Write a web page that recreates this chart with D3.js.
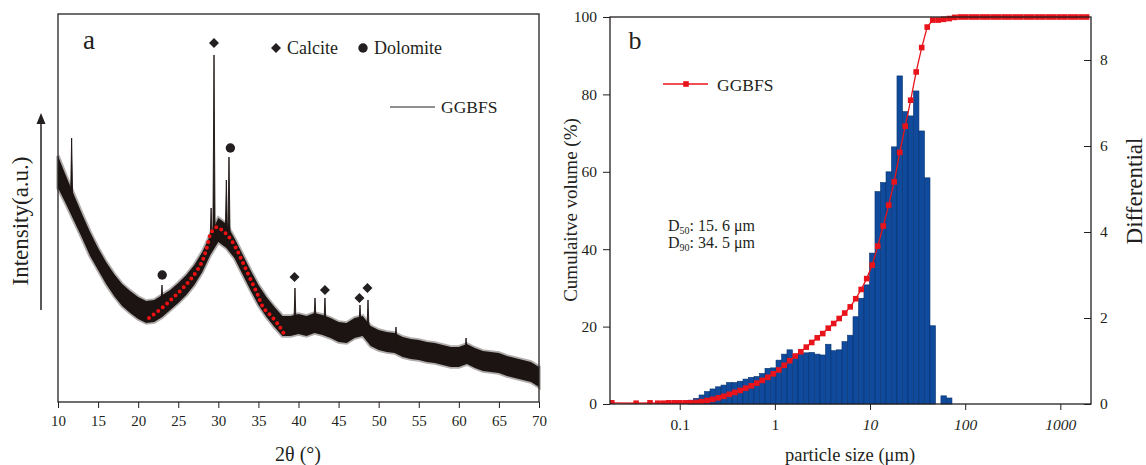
<!DOCTYPE html>
<html>
<head>
<meta charset="utf-8">
<script src="https://cdn.jsdelivr.net/npm/d3@7"></script>
<style>
  body { margin: 0; background: #fff; }
  text { font-family: "Liberation Serif", "Times New Roman", serif; fill: #231f20; }
</style>
</head>
<body>
<svg id="chart" width="1146" height="465"></svg>
<script>
// ---- panel a : XRD pattern (intensity in a.u.) ----
var xrdTheta = [10, 11, 12, 13, 14, 15, 16, 17, 18, 19, 20, 21, 22, 23, 24, 25, 26, 27, 28, 29, 30,
  31, 32, 33, 34, 35, 36, 37, 38, 39, 40, 41, 42, 43, 44, 45, 46, 47, 48, 49, 50,
  51, 52, 53, 54, 55, 56, 57, 58, 59, 60, 61, 62, 63, 64, 65, 66, 67, 68, 69, 70]
// upper and lower edge of the noisy trace
var xrdHigh = [246, 226, 207, 188, 170, 154, 140, 128, 118, 111, 105, 101, 102, 107, 112, 119, 127, 137, 150, 167, 184,
  178, 164, 148, 132, 117, 105, 95, 86, 86, 88, 86, 89, 87, 84, 80, 79, 84, 86, 76, 72,
  70, 69, 65, 63, 62, 60, 59, 57, 55, 55, 58, 54, 51, 50, 49, 46, 44, 42, 40, 35]
var xrdLow = [214, 198, 181, 164, 146, 132, 118, 106, 96, 89, 83, 79, 80, 85, 92, 99, 107, 117, 130, 147, 160,
  154, 144, 128, 112, 97, 85, 75, 66, 66, 68, 66, 69, 67, 64, 60, 59, 64, 66, 56, 52,
  50, 49, 45, 43, 42, 40, 39, 37, 35, 35, 38, 34, 31, 30, 29, 26, 24, 22, 20, 15]
// sharp reflections
var peakTheta = [11.7, 22.97, 29.1, 29.46, 31.0, 31.33, 39.56, 42.06, 43.3, 47.67, 48.67, 52.16, 60.9]
var peakTop = [264, 117, 194, 347, 222, 245, 114, 104, 104, 97, 102, 75, 64]
// phase markers
var calciteTheta = [29.46, 39.5, 43.3, 47.6, 48.6]
var calciteY = [359, 125, 112, 104, 114]
var dolomiteTheta = [31.5, 23.0]
var dolomiteY = [254, 127]
// amorphous hump (red dotted)
var humpTheta = [21.35, 22.97, 24.34, 25.72, 26.96, 27.96, 28.59, 29.08, 29.83, 30.58, 31.33, 32.33,
  33.08, 33.95, 34.82, 35.57, 36.82, 37.69, 38.32]
var humpY = [84, 94, 104, 115, 127, 140, 155, 169, 175, 171, 165, 152, 139, 124, 109, 95, 84, 75, 66]
var xrdTicks = [10, 15, 20, 25, 30, 35, 40, 45, 50, 55, 60, 65, 70]

// ---- panel b : particle size distribution ----
var binEdges = [0.1222, 0.1396, 0.1596, 0.1820, 0.2080, 0.2377, 0.2716, 0.3105, 0.3540, 0.4046,
  0.4624, 0.5284, 0.6039, 0.6887, 0.7870, 0.8995, 1.028, 1.175, 1.340, 1.531,
  1.750, 2.000, 2.286, 2.606, 2.979, 3.404, 3.890, 4.436, 5.070, 5.794,
  6.622, 7.568, 8.630, 9.863, 11.27, 12.88, 14.72, 16.79, 19.19, 21.93,
  25.06, 28.58, 32.66, 37.33, 42.66, 48.75, 55.59, 63.53, 72.61]
var diffValues = [0.09, 0.13, 0.21, 0.29, 0.35, 0.40, 0.44, 0.50, 0.50, 0.53,
  0.58, 0.62, 0.64, 0.71, 0.83, 0.84, 1.02, 1.16, 1.26, 1.12,
  1.16, 1.19, 1.20, 1.16, 1.14, 1.39, 1.24, 1.26, 1.45, 1.60,
  2.03, 2.46, 2.77, 3.51, 4.94, 5.15, 5.40, 5.98, 7.63, 6.80,
  6.70, 7.28, 6.35, 5.26, 1.82, 0, 0.19, 0.14]
var cumSizes = [0.0193, 0.0348, 0.0487, 0.0588, 0.0671, 0.0767, 0.0876, 0.1001, 0.1143,
  0.1306, 0.1493, 0.1706, 0.1945, 0.2223, 0.2541, 0.2904, 0.3319, 0.3784, 0.4325,
  0.4943, 0.5649, 0.6457, 0.7362, 0.8414, 0.9616, 1.099, 1.253, 1.432, 1.637,
  1.871, 2.138, 2.438, 2.786, 3.184, 3.639, 4.150, 4.742, 5.420, 6.194,
  7.079, 8.072, 9.226, 10.54, 12.05, 13.77, 15.70, 17.95, 20.51, 23.44,
  26.73, 30.55, 34.91, 39.90, 45.60, 52.00, 59.43, 67.92,
  77.62, 88.72, 101.2, 115.6, 132.1, 151.0, 172.2, 196.8, 224.9, 257.0, 293.1, 335.0,
  382.8, 437.5, 498.9, 570.2, 651.6, 744.7, 849.2, 970.5, 1109, 1268, 1445, 1652, 1888]
var cumValues = [0.3, 0.2, 0.3, 0.2, 0.2, 0.3, 0.3, 0.3, 0.3,
  0.3, 0.4, 0.6, 0.9, 1.2, 1.6, 2.0, 2.5, 3.0, 3.5,
  4.1, 4.7, 5.4, 6.1, 6.9, 7.8, 8.8, 10.0, 11.2, 12.4,
  13.5, 14.7, 15.9, 17.1, 18.2, 19.6, 20.8, 22.1, 23.5, 25.1,
  27.2, 29.6, 32.4, 35.9, 40.8, 46.0, 51.4, 57.4, 65.0, 71.8,
  78.5, 85.8, 92.1, 97.4, 99.2, 99.2, 99.4, 99.6,
  99.9, 100, 100, 100, 100, 100, 100, 100, 100, 100, 100, 100,
  100, 100, 100, 100, 100, 100, 100, 100, 100, 100, 100, 100, 100]
var sizeTicks = [0.1, 1, 10, 100, 1000]
var cumTicks = [0, 20, 40, 60, 80, 100]
var diffTicks = [0, 2, 4, 6, 8]

var ink = '#231f20'
var red = '#e8141c'
var blue = '#0f4a9c'
var svg = d3.select('#chart')

// square rotated by 45 degrees, as in the reference
function rhomb (r) {
  return 'M0,' + (-r) + 'L' + r + ',0L0,' + r + 'L' + (-r) + ',0Z'
}

// ================= panel a =================
var a = { left: 58, right: 539, top: 14, bottom: 402 }
var xA = d3.scaleLinear().domain([10, 70]).range([a.left, a.right])
var yA = d3.scaleLinear().domain([0, 388]).range([a.bottom, a.top])
var gA = svg.append('g')

// noisy trace drawn as a band, with a soft dark edge
var band = xrdTheta.map(function (t, i) { return { t: t, hi: xrdHigh[i], lo: xrdLow[i] } })
var bandArea = d3.area().x(function (d) { return xA(d.t) })
  .y0(function (d) { return yA(d.lo) }).y1(function (d) { return yA(d.hi) })
gA.append('path')
  .datum(band)
  .attr('d', bandArea)
  .attr('fill', 'none')
  .attr('stroke', '#1c1412')
  .attr('stroke-opacity', 0.35)
  .attr('stroke-width', 3.5)
gA.append('path')
  .datum(band)
  .attr('d', bandArea)
  .attr('fill', '#1c1412')

// centre of band at a given angle (for the foot of each peak)
function bandMid (t) {
  var i = Math.min(xrdTheta.length - 2, Math.max(0, Math.floor(t - xrdTheta[0])))
  var f = (t - xrdTheta[i]) / (xrdTheta[i + 1] - xrdTheta[i])
  var m0 = (xrdHigh[i] + xrdLow[i]) / 2
  var m1 = (xrdHigh[i + 1] + xrdLow[i + 1]) / 2
  return m0 + (m1 - m0) * f
}
peakTheta.forEach(function (t, i) {
  var base = bandMid(t)
  gA.append('path')
    .datum([[t - 0.14, base], [t, peakTop[i]], [t + 0.14, base]])
    .attr('d', d3.line().x(function (d) { return xA(d[0]) }).y(function (d) { return yA(d[1]) }))
    .attr('fill', '#1c1412')
    .attr('stroke', '#1c1412')
    .attr('stroke-width', 0.9)
})

// amorphous hump, red dots
gA.append('path')
  .datum(humpTheta.map(function (t, i) { return [t, humpY[i]] }))
  .attr('d', d3.line().curve(d3.curveCatmullRom)
    .x(function (d) { return xA(d[0]) }).y(function (d) { return yA(d[1]) }))
  .attr('fill', 'none')
  .attr('stroke', '#ee1111')
  .attr('stroke-width', 4)
  .attr('stroke-linecap', 'round')
  .attr('stroke-dasharray', '0 5.8')

// phase symbols
gA.selectAll('.calc').data(calciteTheta).enter().append('path')
  .attr('class', 'calc')
  .attr('d', rhomb(5))
  .attr('transform', function (d, i) { return 'translate(' + xA(d) + ',' + yA(calciteY[i]) + ')' })
  .attr('fill', ink)
gA.selectAll('.dolo').data(dolomiteTheta).enter().append('circle')
  .attr('class', 'dolo')
  .attr('cx', function (d) { return xA(d) })
  .attr('cy', function (d, i) { return yA(dolomiteY[i]) })
  .attr('r', 4.7)
  .attr('fill', ink)

// frame and x axis
gA.append('rect')
  .attr('x', a.left).attr('y', a.top)
  .attr('width', a.right - a.left).attr('height', a.bottom - a.top)
  .attr('fill', 'none').attr('stroke', ink).attr('stroke-width', 1.3)
var axA = gA.append('g').attr('transform', 'translate(0,' + a.bottom + ')')
axA.call(d3.axisBottom(xA).tickValues(d3.range(10, 71, 1)).tickSize(3).tickFormat(''))
axA.call(d3.axisBottom(xA).tickValues(xrdTicks).tickSize(6).tickPadding(7).tickFormat(d3.format('d')))
axA.select('.domain').remove()
axA.selectAll('line').attr('stroke', ink)
axA.selectAll('text').style('font-size', '15px').attr('fill', ink)

// labels
gA.append('text').attr('x', 89).attr('y', 49).attr('text-anchor', 'middle')
  .style('font-size', '27px').text('a')
gA.append('text').attr('x', 298).attr('y', 461).attr('text-anchor', 'middle')
  .style('font-size', '20px').text('2θ (°)')
gA.append('text').attr('transform', 'translate(28,221) rotate(-90)').attr('text-anchor', 'middle')
  .style('font-size', '23px').text('Intensity(a.u.)')
gA.append('line').attr('x1', 41).attr('x2', 41).attr('y1', 310).attr('y2', 122)
  .attr('stroke', ink).attr('stroke-width', 1.5)
gA.append('path').attr('d', 'M41,113 L36.5,124 L45.5,124 Z').attr('fill', ink)

// legend a
gA.append('path').attr('d', rhomb(5)).attr('transform', 'translate(276,48)').attr('fill', ink)
gA.append('text').attr('x', 287).attr('y', 54).style('font-size', '18px').text('Calcite')
gA.append('circle').attr('cx', 363).attr('cy', 48).attr('r', 4.7).attr('fill', ink)
gA.append('text').attr('x', 374).attr('y', 54).style('font-size', '18px').text('Dolomite')
gA.append('line').attr('x1', 390).attr('x2', 435).attr('y1', 107).attr('y2', 107)
  .attr('stroke', ink).attr('stroke-width', 1)
gA.append('text').attr('x', 441).attr('y', 113).style('font-size', '17.5px').text('GGBFS')

// ================= panel b =================
var b = { left: 610, right: 1091, top: 17, bottom: 404 }
var xB = d3.scaleLog().domain([0.0185, 2100]).range([b.left, b.right])
var yL = d3.scaleLinear().domain([0, 100]).range([b.bottom, b.top])
var yR = d3.scaleLinear().domain([0, 9]).range([b.bottom, b.top])
var gB = svg.append('g')

svg.append('clipPath').attr('id', 'clipB').append('rect')
  .attr('x', b.left).attr('y', b.top - 4).attr('width', b.right - b.left).attr('height', b.bottom - b.top + 4)

// differential histogram
gB.selectAll('.bar').data(diffValues).enter().append('rect')
  .attr('class', 'bar')
  .attr('x', function (d, i) { return xB(binEdges[i]) })
  .attr('width', function (d, i) { return xB(binEdges[i + 1]) - xB(binEdges[i]) })
  .attr('y', function (d) { return yR(d) })
  .attr('height', function (d) { return yR(0) - yR(d) })
  .attr('fill', blue)
  .attr('stroke', '#0a346f')
  .attr('stroke-width', function (d) { return d > 0 ? 0.6 : 0 })

// cumulative curve
var cum = cumSizes.map(function (s, i) { return [s, cumValues[i]] })
var gCum = gB.append('g').attr('clip-path', 'url(#clipB)')
gCum.append('path')
  .datum(cum)
  .attr('d', d3.line().x(function (d) { return xB(d[0]) }).y(function (d) { return yL(d[1]) }))
  .attr('fill', 'none').attr('stroke', red).attr('stroke-width', 1.3)
gCum.selectAll('.sq').data(cum).enter().append('rect')
  .attr('class', 'sq')
  .attr('x', function (d) { return xB(d[0]) - 2.8 })
  .attr('y', function (d) { return yL(d[1]) - 2.8 })
  .attr('width', 5.6).attr('height', 5.6)
  .attr('fill', red)

// frame
gB.append('rect')
  .attr('x', b.left).attr('y', b.top)
  .attr('width', b.right - b.left).attr('height', b.bottom - b.top)
  .attr('fill', 'none').attr('stroke', ink).attr('stroke-width', 1.3)

// bottom log axis
var minorSizes = []
;[0.01, 0.1, 1, 10, 100, 1000].forEach(function (dec) {
  for (var k = 2; k <= 9; k++) {
    var v = dec * k
    if (v >= 0.02 && v <= 2000) minorSizes.push(v)
  }
})
var axB = gB.append('g').attr('transform', 'translate(0,' + b.bottom + ')')
axB.call(d3.axisBottom(xB).tickValues(minorSizes).tickSize(3).tickFormat(''))
axB.call(d3.axisBottom(xB).tickValues(sizeTicks).tickSize(6).tickPadding(9)
  .tickFormat(function (d) { return d >= 1 ? d3.format('d')(d) : String(d) }))
axB.select('.domain').remove()
axB.selectAll('line').attr('stroke', ink)
axB.selectAll('text').style('font-size', '15.5px').attr('fill', ink)
  .style('font-style', function (d) { return d >= 10 ? 'italic' : 'normal' })

// left axis (cumulative)
var axL = gB.append('g').attr('transform', 'translate(' + b.left + ',0)')
axL.call(d3.axisLeft(yL).tickValues(d3.range(0, 101, 10)).tickSize(4).tickFormat(''))
axL.call(d3.axisLeft(yL).tickValues(cumTicks).tickSize(7).tickPadding(6).tickFormat(d3.format('d')))
axL.select('.domain').remove()
axL.selectAll('line').attr('stroke', ink)
axL.selectAll('text').style('font-size', '15.5px').attr('fill', ink)

// right axis (differential), ticks pointing inward
var axR = gB.append('g').attr('transform', 'translate(' + b.right + ',0)')
axR.call(d3.axisRight(yR).tickValues(d3.range(0, 10, 1)).tickSize(-4).tickFormat(''))
axR.call(d3.axisRight(yR).tickValues(diffTicks).tickSize(-7).tickPadding(9).tickFormat(d3.format('d')))
axR.select('.domain').remove()
axR.selectAll('line').attr('stroke', ink)
axR.selectAll('text').style('font-size', '15.5px').attr('fill', ink)

// labels
gB.append('text').attr('x', 635).attr('y', 49).attr('text-anchor', 'middle')
  .style('font-size', '26px').text('b')
gB.append('text').attr('x', 850).attr('y', 461).attr('text-anchor', 'middle')
  .style('font-size', '18.5px').text('particle size (μm)')
gB.append('text').attr('transform', 'translate(577,210) rotate(-90)').attr('text-anchor', 'middle')
  .style('font-size', '19px').text('Cumulaitve volume (%)')
gB.append('text').attr('transform', 'translate(1142,191) rotate(-90)').attr('text-anchor', 'middle')
  .style('font-size', '23px').text('Differential')

// legend b
gB.append('line').attr('x1', 663).attr('x2', 708).attr('y1', 84).attr('y2', 84)
  .attr('stroke', red).attr('stroke-width', 1.3)
gB.append('rect').attr('x', 683.2).attr('y', 81.2).attr('width', 5.6).attr('height', 5.6).attr('fill', red)
gB.append('text').attr('x', 717).attr('y', 91).style('font-size', '17.5px').text('GGBFS')

// D50 / D90 note
var dNotes = [['50', ': 15. 6 μm'], ['90', ': 34. 5 μm']]
dNotes.forEach(function (n, i) {
  var t = gB.append('text').attr('x', 668).attr('y', 231 + i * 17).style('font-size', '16px')
  t.append('tspan').text('D')
  t.append('tspan').attr('dy', 3).style('font-size', '10px').text(n[0])
  t.append('tspan').attr('dy', -3).text(n[1])
})
</script>
</body>
</html>
